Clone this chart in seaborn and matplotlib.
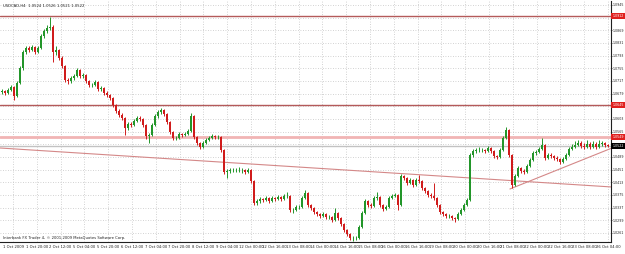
import numpy as np
import pandas as pd
import matplotlib
matplotlib.use("Agg")
import matplotlib.pyplot as plt
import matplotlib.transforms as mtransforms
import seaborn as sns

# ---------------- data (prices in pips above 1.0000) ----------------
chart_title = "USDCAD,H4  1.0524 1.0526 1.0521 1.0522"
copyright_text = "Interbank FX Trader 4, \u00a9 2001-2009 MetaQuotes Software Corp."

first_open = 684
close_pips = [687,681,690,699,672,711,756,804,816,810,
              819,804,816,852,867,876,879,804,810,786,
              762,720,717,726,732,750,732,735,717,705,
              705,714,693,696,681,675,666,645,627,615,
              606,576,588,585,597,606,603,585,552,555,
              585,612,624,630,618,594,564,546,546,558,
              555,558,567,612,549,531,519,531,540,546,
              552,549,549,510,444,447,450,450,450,450,
              450,444,450,417,351,357,363,360,366,357,
              366,363,369,363,372,372,330,330,339,339,
              366,381,345,336,324,318,312,318,309,309,
              300,321,306,288,270,258,246,246,246,279,
              321,357,345,342,366,369,345,333,339,366,
              372,375,345,432,426,411,420,405,420,417,
              396,387,375,372,366,345,324,318,312,312,
              306,303,318,330,345,360,495,507,510,510,
              510,507,516,507,492,489,510,546,570,495,
              405,432,456,447,444,462,480,501,504,513,
              525,486,495,492,486,483,474,483,495,513,
              519,525,531,522,519,528,519,528,519,528,
              531,525,522]
high_pips = [693,690,696,705,702,717,762,810,822,822,
             825,822,822,858,873,885,909,885,822,813,
             792,765,726,732,738,756,753,741,738,720,
             711,720,717,702,699,687,678,669,648,633,
             621,609,594,594,603,612,612,606,588,561,
             591,618,630,636,633,621,597,567,552,564,
             561,564,573,621,615,552,534,537,546,552,
             558,555,555,552,513,453,456,456,456,459,
             456,453,456,453,420,363,369,366,372,369,
             372,369,375,372,378,384,375,336,345,345,
             372,390,384,348,339,327,321,324,321,315,
             312,336,324,309,291,273,261,252,252,285,
             327,363,360,351,372,384,372,348,345,372,
             378,381,378,438,435,429,426,423,426,435,
             420,399,390,381,411,369,348,327,321,318,
             315,309,324,336,351,366,501,513,516,519,
             516,513,522,519,510,495,516,552,579,573,
             498,438,462,459,453,468,486,507,510,519,
             546,528,501,501,495,492,486,489,501,519,
             528,537,540,537,531,540,534,537,534,540,
             537,534,528]
low_pips = [678,675,678,687,660,669,708,750,798,804,
            807,798,801,813,846,861,870,774,795,780,
            756,714,708,711,720,729,726,726,711,699,
            699,702,687,687,675,669,660,639,621,609,
            600,555,570,579,582,594,597,579,543,531,
            552,582,606,618,612,588,558,540,540,543,
            549,552,555,564,543,525,513,516,528,537,
            543,543,543,504,438,426,441,444,444,444,
            441,438,441,411,345,345,351,354,357,351,
            354,357,360,357,360,366,324,321,327,333,
            336,363,339,330,318,312,306,309,303,303,
            294,297,300,282,264,252,240,237,240,243,
            276,318,339,336,339,360,339,327,330,336,
            363,369,330,342,420,405,408,399,402,411,
            390,381,369,366,360,339,318,312,306,306,
            300,294,300,315,327,342,357,489,501,504,
            504,501,504,501,486,483,486,507,543,489,
            396,402,429,441,438,441,459,477,495,501,
            510,480,483,486,480,477,468,471,480,492,
            510,516,522,516,513,516,513,516,513,516,
            522,519,519]

time_labels = ["1 Oct 2009", "1 Oct 20:00", "2 Oct 12:00", "5 Oct 04:00", "5 Oct 20:00",
               "6 Oct 12:00", "7 Oct 04:00", "7 Oct 20:00", "8 Oct 12:00", "9 Oct 04:00",
               "12 Oct 00:00", "12 Oct 16:00", "13 Oct 08:00", "14 Oct 00:00", "14 Oct 16:00",
               "15 Oct 08:00", "16 Oct 00:00", "16 Oct 16:00", "19 Oct 08:00", "20 Oct 00:00",
               "20 Oct 16:00", "21 Oct 08:00", "22 Oct 00:00", "22 Oct 16:00", "23 Oct 08:00",
               "26 Oct 04:00"]

price_ticks = [1.0945, 1.0907, 1.0869, 1.0831, 1.0793, 1.0755, 1.0717, 1.0679, 1.0641,
               1.0603, 1.0565, 1.0527, 1.0489, 1.0451, 1.0413, 1.0375, 1.0337, 1.0299, 1.0261]
hidden_price_labels = [1.0907, 1.0641, 1.0527]   # covered by the price tags

level_lines = [1.0912, 1.0645]      # dark red horizontal levels
resistance_level = 1.0549           # light red thick level
last_price = 1.0522                 # bid line

trend_down_bars = [-0.67, 203.33]
trend_down_prices = [1.0516, 1.0399]
trend_up_bars = [169.3, 203.33]
trend_up_prices = [1.0393, 1.0516]

# ---------------- build frame ----------------
to_price = lambda p: 1.0 + np.asarray(p, dtype=float) / 10000.0
close = to_price(close_pips)
opens = to_price([first_open] + close_pips[:-1])
high = np.maximum.reduce([to_price(high_pips), opens, close])
low = np.minimum.reduce([to_price(low_pips), opens, close])
n = len(close)
df = pd.DataFrame({"bar": np.arange(n), "open": opens, "high": high, "low": low, "close": close})

# ---------------- style ----------------
sns.set_style("white")
plt.rcParams["font.family"] = ["DejaVu Sans"]

W, H = 625, 254
FS = 2.7
FSY = 2.35
fig = plt.figure(figsize=(W / 100, H / 100), dpi=100)
ax = fig.add_axes([0, 1 - 242 / H, 611 / W, 241 / H])

bull, bear = "#23962a", "#d01c1c"
up = df["close"] >= df["open"]
colors = np.where(up, bull, bear)

# grid
grid_color = "#c4c4c4"
ax.set_yticks(price_ticks)
ax.yaxis.grid(True, linestyle=(0, (1, 2)), color=grid_color, linewidth=0.6)
xtick_pos = 3.67 + 7.933 * np.arange(len(time_labels))
ax.set_xticks(xtick_pos)
ax.xaxis.grid(True, linestyle=(0, (1, 2)), color=grid_color, linewidth=0.6)
ax.set_axisbelow(True)

# horizontal levels
for lv in level_lines:
    ax.axhline(lv, color="#b45a5a", linewidth=1.0, zorder=1)
ax.axhline(resistance_level, color="#f1b4b4", linewidth=2.0, zorder=1)
ax.axhline(last_price, color="#c2c2c2", linewidth=1.0, zorder=1)

# trend lines
tl = pd.DataFrame({"bar": trend_down_bars + trend_up_bars,
                   "price": trend_down_prices + trend_up_prices,
                   "line": ["down", "down", "up", "up"]})
sns.lineplot(data=tl, x="bar", y="price", units="line", estimator=None,
             color="#d48888", linewidth=0.8, ax=ax, zorder=2)

# candles
ax.vlines(df["bar"], df["low"], df["high"], colors=colors, linewidth=0.7, zorder=3)
body = (df["close"] - df["open"]).abs().clip(lower=0.00012)
ax.bar(df["bar"], body, bottom=np.minimum(df["open"], df["close"]), width=0.62,
       color=colors, linewidth=0, zorder=4)

ax.set_xlim(-0.67, 203.0)
ax.set_ylim(1.0234, 1.0957)
ax.set_xlabel("")
ax.set_ylabel("")

# axes styling
for s in ["left", "top"]:
    ax.spines[s].set_visible(False)
for s in ["right", "bottom"]:
    ax.spines[s].set_color("#202020")
    ax.spines[s].set_linewidth(0.8)
ax.yaxis.tick_right()
ax.set_yticklabels(["" if v in hidden_price_labels else f"{v:.4f}" for v in price_ticks],
                   fontsize=FSY, color="#222222")
ax.set_xticklabels(time_labels, fontsize=FS, color="#222222")
ax.tick_params(axis="x", length=1.2, width=0.5, pad=0.6, colors="#222222")
ax.tick_params(axis="y", length=1.0, width=0.5, pad=0.4, colors="#222222")

# price tags on right
tr = mtransforms.blended_transform_factory(ax.transAxes, ax.transData)
for lv in level_lines + [resistance_level]:
    ax.text(1.002, lv, f"{lv:.4f}", transform=tr, fontsize=FSY, color="white", va="center",
            ha="left", bbox=dict(boxstyle="square,pad=0.3", fc="#e0201e", ec="none"), zorder=6,
            clip_on=False)
ax.text(1.002, last_price, f"{last_price:.4f}", transform=tr, fontsize=FSY, color="white",
        va="center", ha="left", bbox=dict(boxstyle="square,pad=0.3", fc="black", ec="none"),
        zorder=6, clip_on=False)

# header and footer texts
ax.text(3 / 611, 1 - 3 / 241, chart_title, transform=ax.transAxes, fontsize=FS,
        va="top", ha="left", color="#222222")
ax.text(3 / 611, 2 / 241, copyright_text, transform=ax.transAxes, fontsize=FS,
        va="bottom", ha="left", color="#222222")

fig.savefig("out.png", dpi=100, facecolor="white")
